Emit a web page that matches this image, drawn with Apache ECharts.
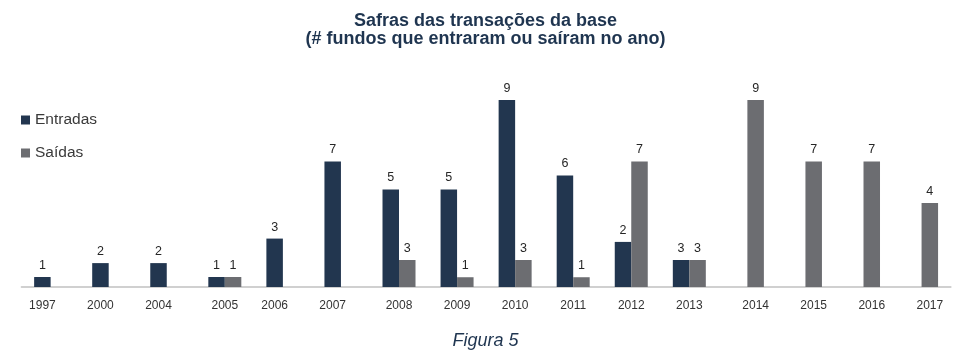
<!DOCTYPE html>
<html>
<head>
<meta charset="utf-8">
<script src="https://cdn.jsdelivr.net/npm/echarts@6/dist/echarts.min.js"></script>
<style>
    html, body { margin: 0; padding: 0; background: #fff; }
    #chart { width: 971px; height: 358px; }
</style>
</head>
<body>
<div id="chart"></div>
<script>
// anos (categorias)
var anos = ['1997', '2000', '2004', '2005', '2006', '2007', '2008', '2009',
    '2010', '2011', '2012', '2013', '2014', '2015', '2016', '2017'];

// números impressos sobre as barras
var entradas = [1, 2, 2, 1, 3, 7, 5, 5, 9, 6, 2, 3, null, null, null, null];
var saidas = [null, null, null, 1, null, null, 3, 1, 3, 1, 7, 3, 9, 7, 7, 4];

// altura das barras como desenhadas na figura (mesma escala: 9 = barra mais alta)
var entradasAltura = [0.48, 1.15, 1.15, 0.48, 2.33, 6.04, 4.69, 4.69, 9, 5.37, 2.17, 1.3, null, null, null, null];
var saidasAltura = [null, null, null, 0.48, null, null, 1.3, 0.47, 1.3, 0.47, 6.04, 1.3, 9, 6.04, 6.04, 4.04];

var corEntradas = '#22364f';
var corSaidas = '#6c6d71';
var fonte = 'Liberation Sans, Arial, sans-serif';

document.addEventListener('DOMContentLoaded', function() {
    var chart = echarts.init(document.getElementById('chart'));

    function rotulo(lista) {
        return function(p) {
            return lista[p.dataIndex] == null ? '' : String(lista[p.dataIndex]);
        };
    }

    var option = {
        animation: false,
        title: [{
            text: 'Safras das transações da base\n(# fundos que entraram ou saíram no ano)',
            left: 'center',
            top: 7,
            textStyle: {
                fontFamily: fonte,
                fontSize: 18,
                fontWeight: 'bold',
                color: '#1f3550',
                lineHeight: 18
            }
        }, {
            text: 'Figura 5',
            left: 'center',
            top: 327,
            textStyle: {
                fontFamily: fonte,
                fontSize: 18,
                fontStyle: 'italic',
                fontWeight: 'normal',
                color: '#1f3550'
            }
        }],
        legend: {
            orient: 'vertical',
            left: 21,
            top: 112,
            padding: 0,
            icon: 'rect',
            itemWidth: 9,
            itemHeight: 9,
            itemGap: 17,
            textStyle: {
                fontFamily: fonte,
                fontSize: 15.5,
                color: '#3a3a3a'
            },
            data: ['Entradas', 'Saídas']
        },
        grid: {
            left: 21.6,
            right: 20.4,
            top: 79.2,
            bottom: 71
        },
        xAxis: {
            type: 'category',
            data: anos,
            axisLine: { lineStyle: { color: '#d0d0d0', width: 2 } },
            axisTick: { show: false },
            axisLabel: {
                margin: 13,
                fontFamily: fonte,
                fontSize: 12,
                color: '#333',
                interval: 0,
                // centraliza o rótulo sob a(s) barra(s) visível(is)
                formatter: function(v, i) {
                    if (entradas[i] != null && saidas[i] == null) return '{l|' + v + '}';
                    if (entradas[i] == null && saidas[i] != null) return '{r|' + v + '}';
                    return v;
                },
                rich: {
                    l: { padding: [0, 16.5, 0, 0], fontFamily: fonte, fontSize: 12, color: '#333' },
                    r: { padding: [0, 0, 0, 16.5], fontFamily: fonte, fontSize: 12, color: '#333' }
                }
            }
        },
        yAxis: {
            type: 'value',
            min: 0,
            max: 10,
            show: false,
            splitLine: { show: false }
        },
        series: [{
            name: 'Entradas',
            type: 'bar',
            data: entradasAltura,
            barWidth: 16.5,
            barGap: '0%',
            itemStyle: { color: corEntradas },
            label: {
                show: true,
                position: 'top',
                distance: 5,
                fontFamily: fonte,
                fontSize: 12.5,
                color: '#262626',
                formatter: rotulo(entradas)
            }
        }, {
            name: 'Saídas',
            type: 'bar',
            data: saidasAltura,
            barWidth: 16.5,
            barGap: '0%',
            itemStyle: { color: corSaidas },
            label: {
                show: true,
                position: 'top',
                distance: 5,
                fontFamily: fonte,
                fontSize: 12.5,
                color: '#262626',
                formatter: rotulo(saidas)
            }
        }]
    };

    chart.setOption(option);
    window.addEventListener('resize', function() {
        chart.resize();
    });
});
</script>
</body>
</html>
